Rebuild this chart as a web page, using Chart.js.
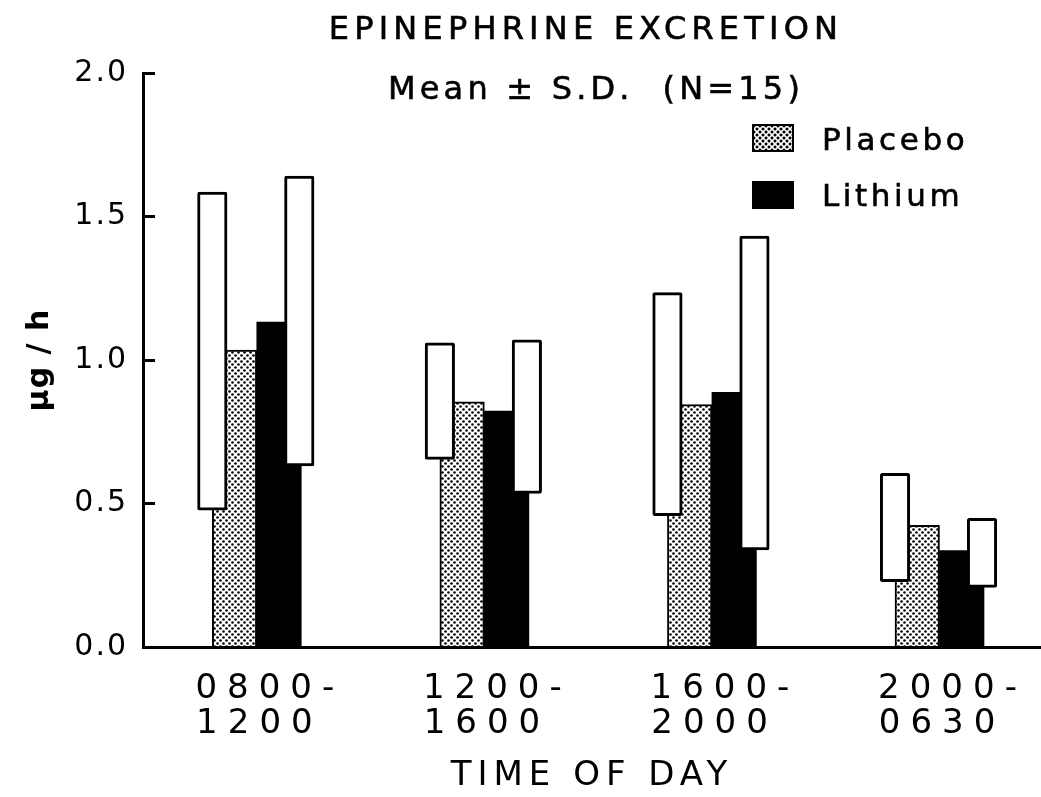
<!DOCTYPE html>
<html>
<head>
<meta charset="utf-8">
<script src="https://cdn.jsdelivr.net/npm/chart.js@4.4.1/dist/chart.umd.min.js"></script>
<style>
  body { margin: 0; background: #fff; }
  #wrap { position: relative; width: 1041px; height: 797px; font-family: "DejaVu Sans", sans-serif; color: #000; }
  canvas { position: absolute; left: 0; top: 0; }
  .txt { position: absolute; white-space: pre; line-height: 1; -webkit-text-stroke: 0.6px #000; }
  #title { left: 586px; top: 12px; font-size: 32px; letter-spacing: 5.2px; transform: translateX(-50%); }
  #subtitle { left: 596px; top: 72px; font-size: 32px; letter-spacing: 4.2px; transform: translateX(-50%); }
  .swatch { position: absolute; left: 752px; width: 42px; height: 28px; box-sizing: border-box; border: 2px solid #000; }
  #sw-placebo {
    top: 124px;
    background:
      radial-gradient(circle, #000 1.2px, transparent 1.8px) 0 0 / 6px 6px,
      radial-gradient(circle, #000 1.2px, transparent 1.8px) 3px 3px / 6px 6px,
      #fff;
  }
  #sw-lithium { top: 181px; background: #000; }
  .leg { left: 822px; font-size: 31px; letter-spacing: 3.6px; }
</style>
</head>
<body>
<div id="wrap">
  <canvas id="chart" width="1041" height="797"></canvas>
  <div class="txt" id="title">EPINEPHRINE EXCRETION</div>
  <div class="txt" id="subtitle">Mean ± S.D.  (N=15)</div>
  <div class="swatch" id="sw-placebo"></div>
  <div class="txt leg" style="top:124px">Placebo</div>
  <div class="swatch" id="sw-lithium"></div>
  <div class="txt leg" style="top:180px">Lithium</div>
</div>
<script>
// time-of-day periods (x positions 0..3)
const periods = [0, 1, 2, 3];
const periodLabels = [['0800-', '1200 '], ['1200-', '1600 '], ['1600-', '2000 '], ['2000-', '0630 ']];

// mean epinephrine excretion, ug/h
const placeboMean = [1.035, 0.854, 0.845, 0.424];
const lithiumMean = [1.132, 0.822, 0.887, 0.336];

// mean - SD .. mean + SD
const placeboLow  = [0.477, 0.654, 0.458, 0.228];
const placeboHigh = [1.585, 1.060, 1.235, 0.605];
const lithiumLow  = [0.631, 0.535, 0.338, 0.208];
const lithiumHigh = [1.641, 1.070, 1.432, 0.448];

const yTicks = [0, 0.5, 1.0, 1.5, 2.0];

// dotted fill for the placebo bars
function dotPattern() {
  const c = document.createElement('canvas');
  c.width = 6; c.height = 6;
  const g = c.getContext('2d');
  g.fillStyle = '#fff';
  g.fillRect(0, 0, 6, 6);
  g.fillStyle = '#000';
  [[1.5, 1.5], [4.5, 4.5]].forEach(([x, y]) => {
    g.beginPath();
    g.arc(x, y, 1.3, 0, Math.PI * 2);
    g.fill();
  });
  return g.createPattern(c, 'repeat');
}

const asPoints = (vals) => periods.map((p, i) => ({ x: p, y: vals[i] }));
const asRanges = (lo, hi) => periods.map((p, i) => ({ x: p, y: [lo[i], hi[i]] }));

// canvas letter spacing per scale: [tick labels, title]
const spacing = { x: ['10px', '6px'], y: ['2px', '1px'] };
const letterSpacingPlugin = {
  id: 'letterSpacing',
  beforeDraw(chart) {
    Object.keys(spacing).forEach(id => {
      const s = chart.scales[id];
      if (!s || s._spaced) return;
      s._spaced = true;
      const drawLabels = s.drawLabels.bind(s);
      const drawTitle = s.drawTitle.bind(s);
      s.drawLabels = (area) => {
        chart.ctx.save();
        chart.ctx.letterSpacing = spacing[id][0];
        drawLabels(area);
        chart.ctx.restore();
      };
      s.drawTitle = () => {
        chart.ctx.save();
        chart.ctx.letterSpacing = spacing[id][1];
        drawTitle();
        chart.ctx.restore();
      };
    });
  }
};

const font = 'DejaVu Sans';

// x range of the main axis; the S.D. boxes use two hidden axes shifted
// by about one bar width so each box straddles the outer edge of its bar
const xMin = -0.5, xMax = 3.446;
const shiftPlacebo = 0.1955, shiftLithium = -0.1868;

const sdBox = {
  grouped: false,
  order: 0,
  backgroundColor: '#fff',
  borderColor: '#000',
  borderWidth: 3,
  borderSkipped: false,
  borderRadius: 2,
  barThickness: 29.5
};

const hiddenAxis = (shift) => ({
  type: 'linear',
  display: false,
  offset: false,
  min: xMin + shift,
  max: xMax + shift,
  afterBuildTicks: (scale) => { scale.ticks = periods.map(v => ({ value: v })); }
});

new Chart(document.getElementById('chart'), {
  type: 'bar',
  data: {
    datasets: [
      Object.assign({ label: 'Placebo S.D.', data: asRanges(placeboLow, placeboHigh), xAxisID: 'xP' }, sdBox),
      Object.assign({ label: 'Lithium S.D.', data: asRanges(lithiumLow, lithiumHigh), xAxisID: 'xL' }, sdBox),
      {
        label: 'Placebo',
        data: asPoints(placeboMean),
        xAxisID: 'x',
        order: 1,
        backgroundColor: dotPattern(),
        borderColor: '#000',
        borderWidth: 2,
        barThickness: 44.5
      },
      {
        label: 'Lithium',
        data: asPoints(lithiumMean),
        xAxisID: 'x',
        order: 1,
        backgroundColor: '#000',
        borderColor: '#000',
        borderWidth: 0,
        barThickness: 44.5
      }
    ]
  },
  options: {
    responsive: false,
    animation: false,
    layout: { padding: { top: 73, left: 0, right: 0, bottom: 0 } },
    plugins: {
      legend: { display: false },
      tooltip: { enabled: false }
    },
    scales: {
      x: {
        type: 'linear',
        offset: false,
        min: xMin,
        max: xMax,
        afterBuildTicks: (scale) => { scale.ticks = periods.map(v => ({ value: v })); },
        afterFit: (scale) => { scale.height = 150; },
        grid: { display: false, offset: false },
        border: { color: '#000', width: 3, z: 1 },
        ticks: {
          autoSkip: false,
          maxRotation: 0,
          padding: 17,
          labelOffset: 13,
          color: '#000',
          font: { family: font, size: 34, lineHeight: 1.03 },
          callback: (v) => periodLabels[v]
        },
        title: {
          display: true,
          text: 'TIME OF DAY',
          color: '#000',
          font: { family: font, size: 34 },
          padding: { top: 0, bottom: 0 }
        }
      },
      xP: hiddenAxis(shiftPlacebo),
      xL: hiddenAxis(shiftLithium),
      y: {
        min: 0,
        max: 2,
        afterBuildTicks: (scale) => { scale.ticks = yTicks.map(v => ({ value: v })); },
        afterFit: (scale) => { scale.width = 143; },
        grid: {
          drawOnChartArea: false,
          drawTicks: true,
          tickLength: -12,
          tickWidth: 3,
          color: '#000'
        },
        border: { color: '#000', width: 3, z: 1 },
        ticks: {
          padding: 27,
          color: '#000',
          font: { family: font, size: 30 },
          callback: (v) => v.toFixed(1)
        },
        title: {
          display: true,
          text: 'μg / h',
          color: '#000',
          font: { family: font, size: 30, weight: 'bold' },
          padding: { top: 22, bottom: 0 }
        }
      }
    }
  },
  plugins: [letterSpacingPlugin]
});
</script>
</body>
</html>
